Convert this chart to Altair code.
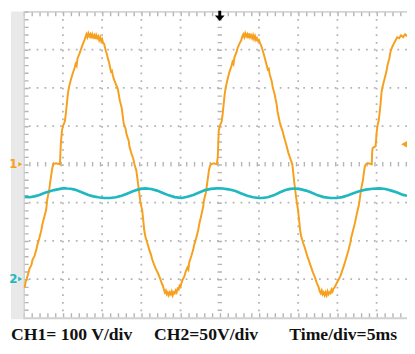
import altair as alt
import pandas as pd

# ---------------- data ----------------
# CH1 (orange) : time in ms, voltage in V (100 V/div)
ch1_t = [0.125, 0.25, 0.375, 0.625, 0.75, 1.0, 1.125, 1.375, 1.625, 1.75, 2.0, 2.25, 2.375, 2.625, 2.875,
         3.0, 3.25, 3.375, 3.5, 3.625, 3.75, 4.125, 4.625, 4.6875, 4.75, 4.875, 5.0, 5.25, 5.375, 5.5, 5.625,
         5.75, 6.0, 6.25, 6.5, 6.625, 6.75, 6.875, 7.125, 7.25, 7.5, 7.75, 7.875, 8.0, 8.125, 8.25, 8.375, 8.5,
         8.625, 8.75, 8.875, 9.0, 9.125, 9.25, 9.375, 9.5, 9.625, 9.75, 9.875, 10.0, 10.125, 10.25, 10.375, 10.5,
         10.625, 10.75, 10.875, 11.0, 11.125, 11.25, 11.375, 11.5, 11.75, 12.0, 12.125, 12.25, 12.5, 12.625,
         12.75, 13.0, 13.125, 13.375, 13.5, 13.75, 14.0, 14.125, 14.375, 14.5, 14.625, 14.75, 14.875, 15.125,
         15.25, 15.375, 15.5, 15.75, 16.0, 16.25, 16.375, 16.625, 16.875, 17.125, 17.375, 17.625, 17.75, 17.875,
         18.0, 18.125, 18.25, 18.375, 18.5, 18.625, 18.75, 18.875, 19.0, 19.125, 19.25, 19.375, 19.5, 19.625,
         19.75, 19.875, 20.0, 20.125, 20.25, 20.5, 20.625, 20.875, 21.0, 21.125, 21.375, 21.625, 21.75, 22.0,
         22.25, 22.375, 22.625, 22.875, 23.0, 23.25, 23.375, 23.5, 23.625, 23.75, 23.875, 24.25, 24.625, 24.75,
         24.8125, 24.875, 25.0, 25.25, 25.375, 25.5, 25.625, 25.75, 26.0, 26.25, 26.5, 26.625, 26.75, 26.875,
         27.125, 27.25, 27.5, 27.75, 27.875, 28.0, 28.125, 28.25, 28.375, 28.5, 28.625, 28.75, 28.875, 29.0,
         29.125, 29.25, 29.375, 29.5, 29.625, 29.75, 29.875, 30.0, 30.125, 30.25, 30.375, 30.625, 30.75, 31.0,
         31.125, 31.25, 31.375, 31.625, 31.75, 32.0, 32.25, 32.375, 32.625, 32.75, 33.0, 33.25, 33.5, 33.75,
         34.0, 34.25, 34.375, 34.5, 34.625, 34.75, 35.0, 35.125, 35.25, 35.375, 35.625, 35.875, 36.125, 36.375,
         36.625, 36.875, 37.125, 37.375, 37.625, 37.75, 37.875, 38.0, 38.125, 38.25, 38.375, 38.5, 38.625,
         38.75, 38.875, 39.0, 39.125, 39.25, 39.375, 39.5, 39.625, 39.875, 40.125, 40.375, 40.625, 40.875,
         41.125, 41.375, 41.625, 41.75, 42.0, 42.25, 42.5, 42.75, 42.875, 43.0, 43.25, 43.375, 43.5, 43.625,
         44.0, 44.375, 44.4375, 44.5, 44.875, 45.0, 45.125, 45.25, 45.375, 45.5, 45.625, 45.75, 46.0, 46.25,
         46.375, 46.625, 46.75, 47.0, 47.25, 47.375, 47.625, 47.875, 48.125, 48.375, 48.625, 48.875]
ch1_v = [-322.5, -307.5, -300, -282.5, -272.5, -262.5, -250, -240, -222.5, -210, -192.5, -172.5, -157.5, -137.5, -117.5,
         -92.5, -67.5, -47.5, -30, -12.5, 0, 2.5, 0, 32.5, 57.5, 87.5, 100, 112.5, 132.5, 157.5, 182.5,
         200, 220, 237.5, 252.5, 262.5, 257.5, 277.5, 290, 297.5, 312.5, 325, 332.5, 340, 332.5, 342.5, 335, 340,
         330, 340, 332.5, 337.5, 327.5, 337.5, 330, 335, 325, 332.5, 322.5, 327.5, 317.5, 315, 305, 295,
         287.5, 275, 267.5, 255, 242.5, 245, 232.5, 222.5, 210, 197.5, 182.5, 167.5, 147.5, 127.5,
         107.5, 92.5, 77.5, 62.5, 45, 27.5, 12.5, 0, -17.5, -37.5, -57.5, -77.5, -97.5, -122.5,
         -147.5, -172.5, -187.5, -205, -222.5, -237.5, -247.5, -262.5, -275, -285, -297.5, -312.5, -317.5, -327.5,
         -335, -330, -340, -335, -342.5, -335, -340, -332.5, -342.5, -335, -337.5, -330, -335, -325,
         -327.5, -317.5, -320, -310, -302.5, -292.5, -282.5, -270, -275, -255, -240, -222.5, -210, -192.5,
         -172.5, -157.5, -135, -112.5, -92.5, -72.5, -52.5, -35, -15, -5, 0, 2.5, 0, 20,
         57.5, 87.5, 100, 112.5, 132.5, 157.5, 182.5, 200, 222.5, 242.5, 257.5, 267.5, 262.5, 280,
         292.5, 302.5, 315, 325, 335, 340, 332.5, 342.5, 335, 340, 330, 342.5, 332.5, 337.5,
         330, 337.5, 327.5, 335, 325, 330, 322.5, 325, 317.5, 312.5, 305, 287.5, 277.5, 257.5,
         247.5, 250, 235, 217.5, 202.5, 182.5, 157.5, 137.5, 112.5, 102.5, 87.5, 67.5, 50, 30,
         15, 0, -22.5, -47.5, -67.5, -87.5, -122.5, -147.5, -172.5, -187.5, -205, -220, -237.5, -252.5,
         -267.5, -282.5, -295, -310, -322.5, -332.5, -337.5, -330, -340, -335, -342.5, -335, -342.5,
         -332.5, -340, -335, -337.5, -327.5, -332.5, -325, -322.5, -312.5, -302.5, -292.5, -277.5, -262.5,
         -245, -227.5, -207.5, -192.5, -172.5, -152.5, -127.5, -105, -87.5, -67.5, -42.5, -22.5, -5, 0,
         2.5, 0, 32.5, 42.5, 47.5, 82.5, 102.5, 112.5, 132.5, 157.5, 187.5, 202.5, 222.5, 242.5,
         257.5, 277.5, 292.5, 307.5, 317.5, 322.5, 332.5, 330, 337.5, 332.5, 340, 335]

# CH2 (cyan) : time in ms, voltage in V (50 V/div)
ch2_t = [0.125, 0.75, 1.375, 2.0, 2.625, 3.25, 3.875, 4.5, 5.125, 5.5, 6.0, 6.5, 7.0, 7.625, 8.25, 8.875,
         9.5, 10.25, 11.0, 11.75, 12.5, 13.25, 14.0, 14.75, 15.5, 16.25, 17.0, 17.75, 18.5, 19.25, 20.125,
         20.875, 21.625, 22.375, 23.125, 23.875, 24.625, 25.375, 26.125, 27.0, 27.75, 28.5, 29.25, 30.0, 30.375,
         31.125, 31.875, 32.625, 33.375, 34.0, 34.5, 35.25, 36.0, 36.75, 37.5, 38.25, 39.125, 39.875, 40.625,
         41.375, 42.125, 42.875, 43.625, 44.5, 45.375, 46.125, 46.875, 47.625, 48.375, 48.875]
ch2_v = [107.5, 106.9, 108.1, 110.0, 112.5, 114.4, 116.3, 117.5, 118.8, 118.4, 118.1, 116.9, 115.0, 112.5, 110.0, 108.1,
         106.9, 106.0, 105.9, 106.9, 108.8, 111.9, 115.0, 117.5, 118.5, 117.8, 115.6, 112.5, 109.4, 107.1, 106.0,
         107.5, 110.0, 113.1, 116.3, 117.9, 118.5, 118.4, 117.3, 115.0, 111.9, 108.8, 106.9, 106.0, 105.9,
         106.9, 109.4, 113.1, 116.3, 117.9, 118.4, 117.5, 115.6, 112.8, 109.4, 107.1, 106.0, 105.9, 107.1,
         109.6, 112.5, 115.0, 116.9, 118.1, 118.5, 117.8, 115.6, 113.1, 110.0, 108.8]

grid_t = [5, 10, 15, 20, 30, 35, 40, 45]
grid_div = [-3, -2, -1, 1, 2, 3]
trigger_time = [25]
trigger_level_v = [52.5]
captions = ["CH1= 100 V/div", "CH2=50V/div", "Time/div=5ms"]

# ---------------- chart ----------------
ORANGE = "#f6a01e"
CYAN = "#1fb8c1"
GRID = "#b4b4b4"
W, H = 391, 312

xs = alt.Scale(domain=[0, 48.875], nice=False, zero=False)
ys = alt.Scale(domain=[-4, 4], nice=False, zero=False)

one = pd.DataFrame({"a": [0]})

strip = alt.Chart(one).mark_rect(color="#e9e9e9").encode(
    x=alt.value(-13), x2=alt.value(0), y=alt.value(0), y2=alt.value(H + 2))

vgrid = alt.Chart(pd.DataFrame({"t": grid_t})).mark_rule(
    color=GRID, strokeWidth=1.8, strokeDash=[1.8, 6.0]).encode(
    x=alt.X("t:Q", scale=xs, axis=None))
hgrid = alt.Chart(pd.DataFrame({"d": grid_div})).mark_rule(
    color=GRID, strokeWidth=1.8, strokeDash=[1.8, 6.2]).encode(
    y=alt.Y("d:Q", scale=ys, axis=None))

vcenter = alt.Chart(pd.DataFrame({"t": trigger_time})).mark_rule(
    color=GRID, strokeWidth=4.5, strokeDash=[1.4, 6.4]).encode(
    x=alt.X("t:Q", scale=xs, axis=None))
hcenter = alt.Chart(pd.DataFrame({"d": [0]})).mark_rule(
    color=GRID, strokeWidth=4.5, strokeDash=[1.4, 6.6]).encode(
    y=alt.Y("d:Q", scale=ys, axis=None))

top_line = alt.Chart(one).mark_rule(color="#d4d4d4", strokeWidth=2).encode(
    x=alt.value(0), x2=alt.value(W), y=alt.value(0.5))
top_ticks = alt.Chart(one).mark_rule(color=GRID, strokeWidth=4, strokeDash=[1.4, 6.6]).encode(
    x=alt.value(0), x2=alt.value(W), y=alt.value(3))
bot_line = alt.Chart(one).mark_rule(color="#d0d0d0", strokeWidth=2).encode(
    x=alt.value(0), x2=alt.value(W), y=alt.value(H + 1))
bot_ticks = alt.Chart(one).mark_rule(color=GRID, strokeWidth=4, strokeDash=[1.4, 6.6]).encode(
    x=alt.value(0), x2=alt.value(W), y=alt.value(H - 2))
left_line = alt.Chart(one).mark_rule(color="#d0d0d0", strokeWidth=1.5).encode(
    x=alt.value(0.5), y=alt.value(0), y2=alt.value(H + 2))
left_ticks = alt.Chart(one).mark_rule(color=GRID, strokeWidth=4, strokeDash=[1.4, 6.4]).encode(
    x=alt.value(3), y=alt.value(0), y2=alt.value(H))

ch1 = alt.Chart(pd.DataFrame({"t": ch1_t, "v": ch1_v})).transform_calculate(
    d="datum.v / 100").mark_line(color=ORANGE, strokeWidth=2.0).encode(
    x=alt.X("t:Q", scale=xs, axis=None), y=alt.Y("d:Q", scale=ys, axis=None))
ch2 = alt.Chart(pd.DataFrame({"t": ch2_t, "v": ch2_v})).transform_calculate(
    d="datum.v / 50 - 3").mark_line(color=CYAN, strokeWidth=2.7).encode(
    x=alt.X("t:Q", scale=xs, axis=None), y=alt.Y("d:Q", scale=ys, axis=None))

mk = pd.DataFrame({"label": ["1", "2"], "d": [0, -3], "c": [ORANGE, CYAN]})
mk_text = alt.Chart(mk).mark_text(fontSize=12, fontWeight="bold", font="DejaVu Sans",
                                  baseline="middle", align="center").encode(
    x=alt.value(-10.5), y=alt.Y("d:Q", scale=ys, axis=None),
    text="label:N", color=alt.Color("c:N", scale=None))
mk_tri = alt.Chart(mk).mark_point(shape="triangle-right", filled=True, size=22, opacity=1).encode(
    x=alt.value(-3.5), y=alt.Y("d:Q", scale=ys, axis=None), color=alt.Color("c:N", scale=None))

trig = alt.Chart(pd.DataFrame({"v": trigger_level_v})).transform_calculate(
    d="datum.v / 100").mark_point(shape="triangle-left", filled=True, size=45,
                                  color=ORANGE, opacity=1).encode(
    x=alt.value(W - 3), y=alt.Y("d:Q", scale=ys, axis=None))

arrow = alt.Chart(pd.DataFrame({"t": trigger_time})).mark_point(
    shape="M-0.28,-1 L0.28,-1 L0.28,-0.05 L0.95,-0.05 L0,1 L-0.95,-0.05 L-0.28,-0.05 Z",
    filled=True, size=110, color="black", opacity=1).encode(
    x=alt.X("t:Q", scale=xs, axis=None), y=alt.value(4.5))

cap = pd.DataFrame({"txt": captions, "px": [-13, 133, 271]})
caption = alt.Chart(cap).mark_text(font="Liberation Serif", fontWeight="bold", fontSize=18,
                                   align="left", baseline="alphabetic", color="#111111").encode(
    x=alt.X("px:Q", scale=None, axis=None), y=alt.value(335), text="txt:N")

chart = alt.layer(
    strip, vgrid, hgrid, vcenter, hcenter, top_line, top_ticks, bot_line, bot_ticks,
    left_line, left_ticks, ch1, ch2, mk_text, mk_tri, trig, arrow, caption
).properties(
    width=W, height=H,
    padding={"left": 16, "top": 0, "right": 0, "bottom": 32},
    autosize=alt.AutoSizeParams(type="none"),
    background="white",
).configure_view(stroke=None)

chart.save("out.html", embed_options={"renderer": "svg", "actions": False})
